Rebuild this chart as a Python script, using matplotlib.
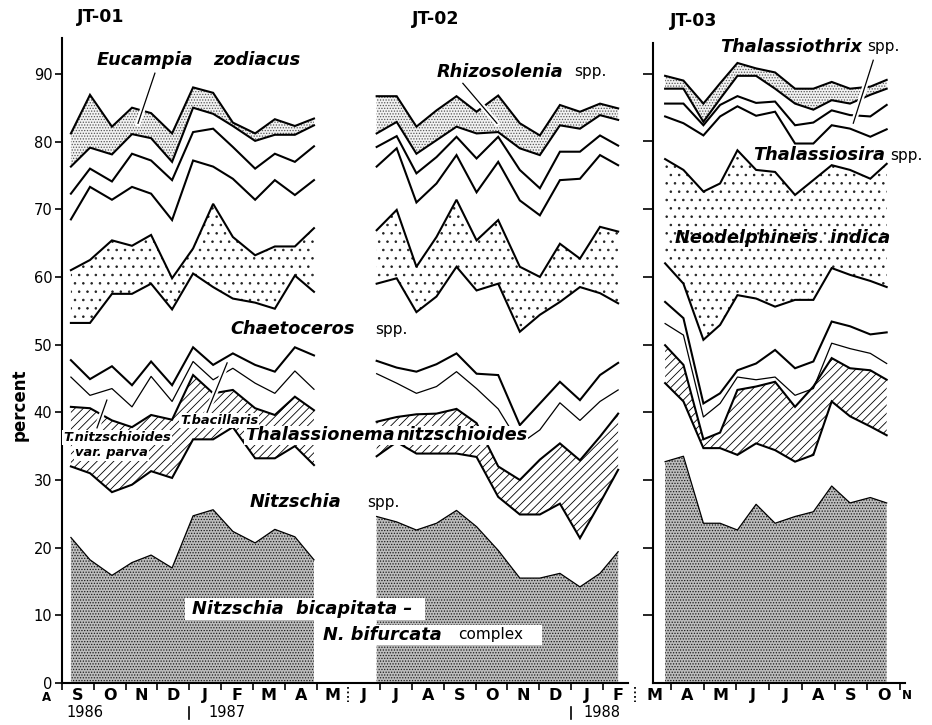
import matplotlib
matplotlib.use("Agg")
import matplotlib.pyplot as plt
from matplotlib.patches import Rectangle
import matplotlib.patheffects as pe

plt.rcParams['font.family'] = ['DejaVu Sans']
plt.rcParams['hatch.linewidth'] = 0.6

# sample positions in months after 1 Sep 1986
x_jt01 = [0.28, 0.88, 1.57, 2.20, 2.80, 3.46, 4.12, 4.75, 5.37, 6.07, 6.69, 7.32, 7.92]
x_jt02 = [9.89, 10.52, 11.14, 11.77, 12.40, 13.03, 13.71, 14.39, 15.02, 15.65, 16.28, 16.91, 17.48]
x_jt03 = [18.82, 19.38, 19.99, 20.50, 21.03, 21.60, 22.18, 22.79, 23.35, 23.91, 24.47, 25.09, 25.59]

# cumulative percent boundaries, JT-01 (bottom to top)
jt01_bicap = [21.5, 18.2, 15.9, 17.8, 18.9, 17.0, 24.7, 25.6, 22.4, 20.7, 22.7, 21.6, 18.2]
jt01_thal_lo = [32.0, 31.0, 28.2, 29.3, 31.3, 30.3, 36.0, 36.0, 37.8, 33.2, 33.2, 35.0, 32.2]
jt01_thal_hi = [40.8, 40.6, 38.8, 37.8, 39.6, 38.9, 45.5, 42.8, 43.3, 40.6, 39.6, 42.3, 40.3]
jt01_thin = [45.2, 42.5, 43.5, 40.8, 45.3, 41.6, 47.5, 44.8, 46.5, 44.3, 42.8, 46.1, 43.4]
jt01_chaet_lo = [47.7, 44.9, 46.8, 44.0, 47.5, 44.0, 49.6, 47.0, 48.7, 47.0, 46.0, 49.6, 48.4]
jt01_neo_lo = [53.2, 53.2, 57.5, 57.5, 59.0, 55.2, 60.5, 58.5, 56.8, 56.2, 55.3, 60.2, 57.8]
jt01_neo_hi = [61.0, 62.5, 65.4, 64.6, 66.2, 59.8, 64.2, 70.8, 65.9, 63.2, 64.5, 64.5, 67.2]
jt01_l9 = [68.5, 73.3, 71.4, 73.3, 72.3, 68.4, 77.2, 76.3, 74.5, 71.4, 74.3, 72.1, 74.3]
jt01_l10 = [72.3, 76.0, 74.1, 78.2, 77.2, 74.3, 81.4, 81.9, 79.2, 76.0, 78.2, 77.0, 79.3]
jt01_euc_lo = [76.3, 79.1, 78.1, 81.1, 80.5, 77.0, 85.0, 84.1, 82.3, 80.1, 81.0, 81.0, 82.4]
jt01_euc_hi = [81.2, 86.9, 82.2, 85.0, 84.2, 81.2, 88.0, 87.2, 82.8, 81.2, 83.3, 82.3, 83.4]

# JT-02
jt02_bicap = [24.6, 23.8, 22.6, 23.6, 25.5, 23.1, 19.6, 15.5, 15.5, 16.2, 14.2, 16.2, 19.4]
jt02_thal_lo = [33.5, 35.6, 33.9, 33.9, 33.9, 33.4, 27.5, 24.9, 24.9, 26.5, 21.4, 26.6, 31.5]
jt02_thal_hi = [38.6, 39.3, 39.7, 39.8, 40.5, 38.4, 32.0, 30.0, 33.0, 35.4, 32.9, 36.4, 39.8]
jt02_thin = [45.7, 44.3, 42.8, 43.8, 46.0, 43.5, 40.5, 35.3, 37.4, 41.4, 38.8, 41.6, 43.3]
jt02_chaet_lo = [47.6, 46.6, 46.0, 47.1, 48.7, 45.7, 45.5, 38.1, 41.3, 44.5, 41.8, 45.5, 47.3]
jt02_neo_lo = [59.0, 59.8, 54.8, 57.1, 61.5, 58.0, 59.0, 51.9, 54.4, 56.3, 58.5, 57.6, 56.1]
jt02_neo_hi = [66.9, 69.9, 61.5, 65.9, 71.4, 65.4, 68.4, 61.5, 60.0, 64.9, 62.7, 67.4, 66.7]
jt02_l8 = [76.3, 79.0, 71.0, 73.8, 78.0, 72.5, 77.0, 71.3, 69.1, 74.3, 74.5, 78.0, 76.5]
jt02_l9 = [79.2, 80.8, 75.3, 77.7, 80.7, 77.5, 80.7, 75.8, 73.1, 78.5, 78.5, 80.9, 79.4]
jt02_rhiz_lo = [81.2, 82.9, 78.2, 80.2, 82.2, 81.2, 81.4, 79.0, 78.0, 82.4, 81.9, 83.9, 83.2]
jt02_rhiz_hi = [86.7, 86.7, 82.2, 84.6, 86.7, 84.4, 86.8, 82.7, 80.9, 85.4, 84.4, 85.6, 84.9]

# JT-03
jt03_bicap = [32.7, 33.5, 23.6, 23.6, 22.6, 26.4, 23.6, 24.6, 25.3, 29.1, 26.6, 27.4, 26.6]
jt03_thal_lo = [44.3, 41.6, 34.7, 34.7, 33.7, 35.4, 34.4, 32.7, 33.7, 41.6, 39.4, 37.9, 36.6]
jt03_thal_hi = [49.9, 47.0, 36.0, 37.0, 43.3, 43.8, 44.5, 40.8, 43.8, 48.0, 46.5, 46.2, 44.8]
jt03_thin = [53.1, 51.4, 39.3, 41.3, 45.2, 44.8, 45.2, 42.5, 43.5, 50.2, 49.4, 48.7, 47.2]
jt03_chaet_lo = [56.3, 53.9, 41.3, 42.8, 46.2, 47.2, 49.2, 46.5, 47.5, 53.4, 52.7, 51.5, 51.8]
jt03_neo_lo = [62.0, 59.0, 50.7, 52.9, 57.3, 56.8, 55.6, 56.6, 56.6, 61.3, 60.3, 59.4, 58.5]
jt03_neo_hi = [77.4, 75.8, 72.6, 73.8, 78.7, 75.8, 75.5, 72.1, 74.3, 76.5, 75.8, 74.5, 76.7]
jt03_l4 = [83.7, 82.7, 80.9, 83.7, 85.2, 83.8, 84.4, 79.7, 79.7, 82.4, 81.9, 80.7, 81.8]
jt03_l3 = [85.6, 85.6, 82.4, 85.4, 86.7, 85.7, 85.9, 82.4, 82.8, 84.6, 83.9, 83.7, 85.4]
jt03_thx_lo = [87.8, 87.8, 82.9, 86.3, 89.7, 89.7, 87.8, 85.6, 84.7, 86.1, 85.6, 86.9, 87.8]
jt03_thx_hi = [89.7, 89.0, 85.6, 88.6, 91.6, 90.8, 90.2, 87.8, 87.8, 88.8, 87.8, 88.1, 89.1]

# axis labels
month_left = ['S', 'O', 'N', 'D', 'J', 'F', 'M', 'A', 'M', 'J', 'J', 'A', 'S', 'O', 'N', 'D', 'J']
month_right = ['M', 'A', 'M', 'J', 'J', 'A', 'S', 'O']
yticks = [0, 10, 20, 30, 40, 50, 60, 70, 80, 90]

# fill styles
dense = dict(hatch='......', facecolor='#bdbdbd', edgecolor='#1a1a1a', linewidth=0)
light = dict(hatch='......', facecolor='#f2f2f2', edgecolor='#555555', linewidth=0)
sparse = dict(hatch='..', facecolor='white', edgecolor='#222222', linewidth=0)
diag = dict(hatch='////', facecolor='white', edgecolor='black', linewidth=0)

TH = 1.5
TN = 0.9
lab = dict(fontsize=12.8, fontweight='bold', style='italic', va='center', ha='left', zorder=5)
spp = dict(fontsize=11, va='center', ha='left', zorder=5)
small = dict(fontsize=9.4, fontweight='bold', style='italic', va='center', ha='left', zorder=5,
             bbox=dict(facecolor='white', edgecolor='none', pad=0.8))

fig = plt.figure(figsize=(9.32, 7.25), dpi=100)
ax = fig.add_axes([62 / 932, 42 / 725, 566 / 932, 645 / 725])
ax3 = fig.add_axes([653 / 932, 42 / 725, 252 / 932, 640 / 725])


def draw_station(a, x, bicap, thal_lo, thal_hi, thin, chaet_lo, neo_lo, neo_hi,
                 mids, top_lo, top_hi, top_style):
    a.fill_between(x, 0, bicap, zorder=1, **dense)
    a.fill_between(x, thal_lo, thal_hi, zorder=1, **diag)
    a.fill_between(x, neo_lo, neo_hi, zorder=1, **sparse)
    a.fill_between(x, top_lo, top_hi, zorder=1, **top_style)
    a.plot(x, bicap, color='black', lw=TN, zorder=2)
    a.plot(x, thin, color='black', lw=TN, zorder=2)
    for y in [thal_lo, thal_hi, chaet_lo, neo_lo, neo_hi] + mids + [top_lo, top_hi]:
        a.plot(x, y, color='black', lw=TH, zorder=2, solid_joinstyle='miter')


draw_station(ax, x_jt01, jt01_bicap, jt01_thal_lo, jt01_thal_hi, jt01_thin, jt01_chaet_lo,
             jt01_neo_lo, jt01_neo_hi, [jt01_l9, jt01_l10], jt01_euc_lo, jt01_euc_hi, light)
draw_station(ax, x_jt02, jt02_bicap, jt02_thal_lo, jt02_thal_hi, jt02_thin, jt02_chaet_lo,
             jt02_neo_lo, jt02_neo_hi, [jt02_l8, jt02_l9], jt02_rhiz_lo, jt02_rhiz_hi, light)
draw_station(ax3, x_jt03, jt03_bicap, jt03_thal_lo, jt03_thal_hi, jt03_thin, jt03_chaet_lo,
             jt03_neo_lo, jt03_neo_hi, [jt03_l4, jt03_l3], jt03_thx_lo, jt03_thx_hi, light)

# axes styling
for a, xl, yl in [(ax, (0, 17.79), 95.3), (ax3, (18.45, 26.15), 94.55)]:
    a.set_xlim(*xl)
    a.set_ylim(0, yl)
    for s in ['top', 'right']:
        a.spines[s].set_visible(False)
    for s in ['left', 'bottom']:
        a.spines[s].set_linewidth(1.5)
    a.tick_params(axis='both', direction='out', length=5, width=1.2)
    a.set_yticks(yticks)

ax.set_yticklabels([str(v) for v in yticks], fontsize=10.5)
ax.tick_params(axis='y', pad=2)
ax3.set_yticks(yticks[1:])
ax3.set_yticklabels([])
ax3.tick_params(axis='y', length=7)
ax.set_xticks([m for m in range(0, 18) if m != 9])
ax.set_xticklabels([])
ax3.set_xticks(list(range(19, 27)))
ax3.set_xticklabels([])

tx = ax.get_xaxis_transform()
tx3 = ax3.get_xaxis_transform()
for i, mon in enumerate(month_left):
    ax.text(i + 0.5, -0.019, mon, transform=tx, ha='center', va='center',
            fontsize=11.5, fontweight='bold')
ax.text(17.47, -0.019, 'F', transform=tx, ha='center', va='center', fontsize=11.5, fontweight='bold')
ax.text(-0.5, -0.022, 'A', transform=tx, ha='center', va='center', fontsize=8.5, fontweight='bold')
for i, mon in enumerate(month_right):
    ax3.text(18.5 + i, -0.019, mon, transform=tx3, ha='center', va='center',
             fontsize=11.5, fontweight='bold')
ax3.text(26.22, -0.019, 'N', transform=tx3, ha='center', va='center', fontsize=8.5, fontweight='bold')

# dotted station breaks and year marks
for xm in [9, 18]:
    ax.plot([xm, xm], [-0.006, -0.03], transform=tx, color='black', lw=1.3, ls=(0, (1, 1.5)),
            clip_on=False)
for xm in [4, 16]:
    ax.plot([xm, xm], [-0.037, -0.056], transform=tx, color='black', lw=1.2, clip_on=False)
ax.text(0.72, -0.046, '1986', transform=tx, ha='center', va='center', fontsize=10.5)
ax.text(5.19, -0.046, '1987', transform=tx, ha='center', va='center', fontsize=10.5)
ax.text(16.97, -0.046, '1988', transform=tx, ha='center', va='center', fontsize=10.5)

fig.text(20 / 932, 1 - 405 / 725, 'percent', rotation=90, ha='center', va='center',
         fontsize=12, fontweight='bold')
fig.text(77 / 932, 1 - 17 / 725, 'JT-01', ha='left', va='center', fontsize=12.5, fontweight='bold')
fig.text(412 / 932, 1 - 19 / 725, 'JT-02', ha='left', va='center', fontsize=12.5, fontweight='bold')
fig.text(670 / 932, 1 - 21 / 725, 'JT-03', ha='left', va='center', fontsize=12.5, fontweight='bold')

# species labels
ax.text(1.10, 92.0, 'Eucampia', **lab)
ax.text(4.75, 92.0, 'zodiacus', **lab)
ax.text(5.28, 52.3, 'Chaetoceros', **lab)
ax.text(9.85, 52.3, 'spp.', **spp)
ax.text(11.79, 90.3, 'Rhizosolenia', **lab)
ax.text(16.1, 90.3, 'spp.', **spp)
ax.text(5.75, 36.6, 'Thalassionema', bbox=dict(facecolor='white', edgecolor='none', pad=0.5), **lab)
ax.text(10.5, 36.6, 'nitzschioides', bbox=dict(facecolor='white', edgecolor='none', pad=0.5), **lab)
ax.text(5.91, 26.7, 'Nitzschia', **lab)
ax.text(9.59, 26.7, 'spp.', **spp)
ax.add_patch(Rectangle((3.87, 9.3), 7.54, 3.3, facecolor='white', edgecolor='none', zorder=4))
ax.add_patch(Rectangle((8.04, 5.6), 7.04, 3.0, facecolor='white', edgecolor='none', zorder=4))
ax.text(4.09, 10.9, 'Nitzschia  bicapitata –', **lab)
ax.text(8.20, 7.1, 'N. bifurcata', **lab)
ax.text(12.45, 7.1, 'complex', **spp)
ax.text(0.03, 36.3, 'T.nitzschioides', **small)
ax.text(0.41, 34.0, 'var. parva', **small)
ax.text(3.71, 38.8, 'T.bacillaris', **small)
ax3.text(20.50, 94.0, 'Thalassiothrix', clip_on=False, **lab)
ax3.text(24.99, 94.0, 'spp.', clip_on=False, **spp)
ax3.text(21.51, 78.0, 'Thalassiosira', **lab)
ax3.text(25.70, 78.0, 'spp.', clip_on=False, **spp)
ax3.text(19.12, 65.7, 'Neodelphineis  indica', **lab)

# pointer lines
halo = [pe.Stroke(linewidth=4, foreground='white'), pe.Normal()]
for a, (xa, ya, xb, yb) in [(ax, (2.92, 90.1, 2.39, 82.7)),
                            (ax, (12.60, 88.6, 13.67, 82.7)),
                            (ax, (1.10, 37.7, 1.41, 41.8)),
                            (ax, (4.56, 40.0, 5.19, 47.3)),
                            (ax3, (25.18, 92.0, 24.57, 82.7))]:
    a.plot([xa, xb], [ya, yb], color='black', lw=0.9, zorder=6, path_effects=halo)

fig.savefig('out.png', dpi=100)
